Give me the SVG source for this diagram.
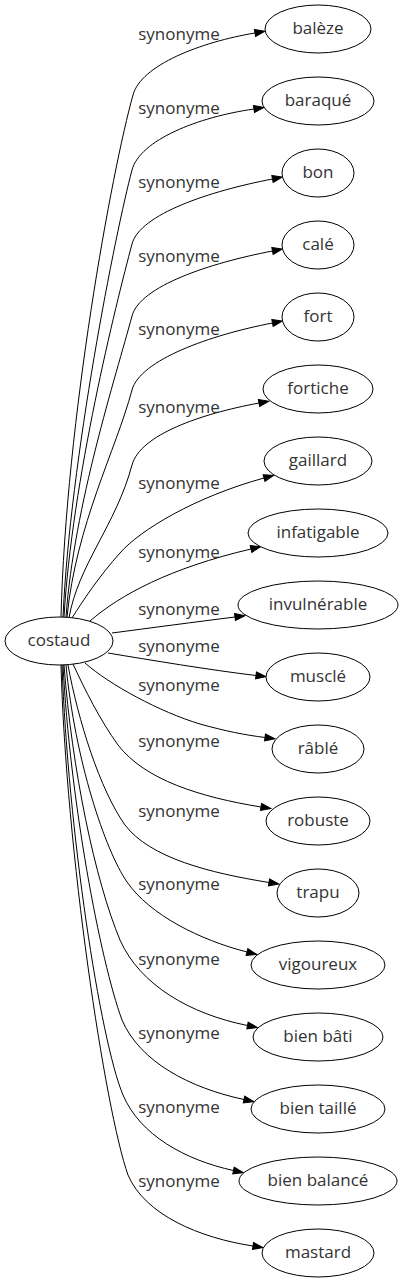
<svg xmlns="http://www.w3.org/2000/svg" width="404" height="1283" viewBox="0 0 404 1283">
<defs>
<style>
.n ellipse{fill:#fff;stroke:#000;stroke-width:1}
text{font-family:"Open Sans","Noto Sans","DejaVu Sans",sans-serif;font-size:17px;fill:#333;text-anchor:middle}
.e path{fill:none;stroke:#000;stroke-width:1;marker-end:url(#arr)}
</style>
<marker id="arr" markerWidth="10" markerHeight="7" refX="0" refY="3.5" orient="auto" markerUnits="userSpaceOnUse" overflow="visible">
<polygon points="0,0 10,3.5 0,7" fill="#000" stroke="#000" stroke-width="1"/>
</marker>
</defs>
<rect width="404" height="1283" fill="#fff"/>
<g id="connectors" class="e">
<path d="M61,617 C66,420 112,170 133,95 C141,65 201,42 255,33"/>
<path d="M63,617 C70,460 116,230 132,170 C140,140 198,117 254,109"/>
<path d="M64,617 C72,480 116,304 132,244 C140,214 210,191 272.5,179"/>
<path d="M66,617 C74,505 116,376 132,316 C140,286 210,263 272.5,251"/>
<path d="M67,617 C76,525 116,450 132,390 C140,360 210,335 272.5,323"/>
<path d="M69,618 C78,565 116,525 132,465 C140,435 200,414 259,403"/>
<path d="M72,618 C82,602 100,575 120,553 C140,530 195,497 264,478"/>
<path d="M90,621 C120,595 170,568 251,549"/>
<path d="M112,633 C150,628 195,622 235,617"/>
<path d="M108,653 C150,660 210,670 256,675.5"/>
<path d="M85,663 C110,685 160,712 200,724 C225,731 245,735 265,737.5"/>
<path d="M73,664 C85,690 100,720 118,745 C145,780 200,797 261,807"/>
<path d="M68,665 C78,720 100,790 125,825 C150,858 210,873 269,882.5"/>
<path d="M66,665 C75,760 105,850 127,882 C150,915 200,940 247,952"/>
<path d="M64,665 C72,770 95,880 120,940 C140,985 190,1014 247.5,1025.5"/>
<path d="M63,665 C70,800 100,960 122,1020 C140,1062 190,1088 244,1099.5"/>
<path d="M62,665 C68,830 100,1040 123,1095 C140,1135 185,1160 233.5,1170.5"/>
<path d="M61,665 C66,850 105,1110 128,1175 C145,1215 200,1238 253,1246"/>
<text x="179" y="40">synonyme</text>
<text x="179" y="114">synonyme</text>
<text x="179" y="188">synonyme</text>
<text x="179" y="262">synonyme</text>
<text x="179" y="335">synonyme</text>
<text x="179" y="413">synonyme</text>
<text x="179" y="489">synonyme</text>
<text x="179" y="558">synonyme</text>
<text x="179" y="615">synonyme</text>
<text x="179" y="652">synonyme</text>
<text x="179" y="691">synonyme</text>
<text x="179" y="747">synonyme</text>
<text x="179" y="817">synonyme</text>
<text x="179" y="890">synonyme</text>
<text x="179" y="965">synonyme</text>
<text x="179" y="1039">synonyme</text>
<text x="179" y="1113">synonyme</text>
<text x="179" y="1187">synonyme</text>
</g>
<g id="costaud" class="n"><ellipse cx="59" cy="641" rx="54" ry="24"/><text x="59" y="646">costaud</text></g>
<g id="baleze" class="n"><ellipse cx="318" cy="29" rx="53" ry="24"/><text x="318" y="34">balèze</text></g>
<g id="baraque" class="n"><ellipse cx="318" cy="101" rx="56" ry="24"/><text x="318" y="106">baraqué</text></g>
<g id="bon" class="n"><ellipse cx="318" cy="173" rx="36" ry="24"/><text x="318" y="178">bon</text></g>
<g id="cale" class="n"><ellipse cx="318" cy="245" rx="36" ry="24"/><text x="318" y="250">calé</text></g>
<g id="fort" class="n"><ellipse cx="318" cy="317" rx="36" ry="24"/><text x="318" y="322">fort</text></g>
<g id="fortiche" class="n"><ellipse cx="318" cy="389" rx="55" ry="24"/><text x="318" y="394">fortiche</text></g>
<g id="gaillard" class="n"><ellipse cx="318" cy="461" rx="54" ry="24"/><text x="318" y="466">gaillard</text></g>
<g id="infatigable" class="n"><ellipse cx="318" cy="533" rx="70" ry="24"/><text x="318" y="538">infatigable</text></g>
<g id="invulnerable" class="n"><ellipse cx="318" cy="605" rx="80" ry="24"/><text x="318" y="610">invulnérable</text></g>
<g id="muscle" class="n"><ellipse cx="318" cy="677" rx="52" ry="24"/><text x="318" y="682">musclé</text></g>
<g id="rable" class="n"><ellipse cx="318" cy="749" rx="46" ry="24"/><text x="318" y="754">râblé</text></g>
<g id="robuste" class="n"><ellipse cx="318" cy="821" rx="52" ry="24"/><text x="318" y="826">robuste</text></g>
<g id="trapu" class="n"><ellipse cx="318" cy="893" rx="41" ry="24"/><text x="318" y="898">trapu</text></g>
<g id="vigoureux" class="n"><ellipse cx="318" cy="965" rx="67" ry="24"/><text x="318" y="970">vigoureux</text></g>
<g id="bien-bati" class="n"><ellipse cx="318" cy="1037" rx="65" ry="24"/><text x="318" y="1042">bien bâti</text></g>
<g id="bien-taille" class="n"><ellipse cx="318" cy="1109" rx="67" ry="24"/><text x="318" y="1114">bien taillé</text></g>
<g id="bien-balance" class="n"><ellipse cx="318" cy="1181" rx="79" ry="24"/><text x="318" y="1186">bien balancé</text></g>
<g id="mastard" class="n"><ellipse cx="318" cy="1253" rx="56" ry="24"/><text x="318" y="1258">mastard</text></g>
</svg>
